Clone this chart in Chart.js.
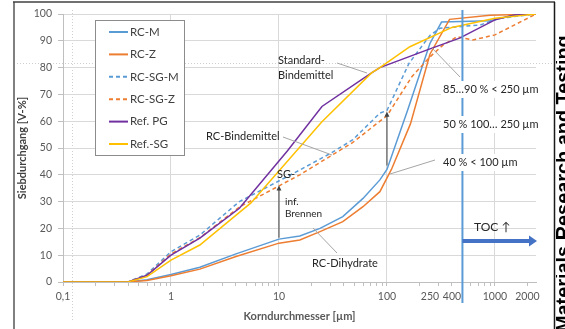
<!DOCTYPE html>
<html>
<head>
<meta charset="utf-8">
<script src="https://cdn.jsdelivr.net/npm/chart.js@4.4.0/dist/chart.umd.min.js"></script>
<style>
  html, body { margin: 0; padding: 0; background: #fff; }
</style>
</head>
<body>
<canvas id="chart" width="565" height="329"></canvas>
<script>
// ── Data ─────────────────────────────────────────────────────────────────────
const rcmSize  = [0.1, 0.4, 0.6, 1, 1.85, 4, 10, 15.6, 24, 39, 60, 86, 100, 155, 250, 320, 900, 1500, 2400];
const rcmPass  = [0, 0, 0.8, 2.8, 5.5, 10.5, 16, 17.2, 20, 24.4, 31.2, 38.1, 42, 64, 89, 97, 97.5, 99.6, 100];

const rczSize  = [0.1, 0.4, 0.6, 1, 1.85, 4, 10, 15.6, 24, 39, 60, 86, 110, 165, 250, 380, 900, 2400];
const rczPass  = [0, 0, 0.6, 2.3, 4.8, 9.5, 14.5, 15.7, 18.8, 22.5, 28.1, 33.7, 42, 59, 85, 98, 99.5, 100];

const sgmSize  = [0.1, 0.4, 0.6, 1, 1.85, 4.3, 15.6, 30, 48, 86, 100, 160, 250, 310, 730, 1100, 2400];
const sgmPass  = [0, 0, 3, 11.3, 17.5, 30, 41.8, 48, 53, 63, 64, 81.6, 92, 94.7, 95.9, 98.4, 100];

const sgzSize  = [0.1, 0.4, 0.6, 1, 1.85, 4.3, 15.6, 30, 48, 86, 100, 170, 250, 330, 445, 625, 1000, 2400];
const sgzPass  = [0, 0, 2.5, 10.5, 16.5, 28, 40, 47, 52, 60, 62, 76.6, 84, 88.4, 91.5, 90.3, 92.2, 100];

const pgSize   = [0.1, 0.4, 0.6, 1, 1.85, 4.3, 12, 25, 72, 86, 250, 470, 1000, 1500, 2400];
const pgPass   = [0, 0, 2.5, 10, 16.4, 27.5, 49, 65.5, 78, 80, 87, 91, 97.8, 99.6, 100];

const refSgSize = [0.1, 0.4, 0.6, 1, 1.85, 5.5, 25, 72, 86, 163, 400, 1000, 2400];
const refSgPass = [0, 0, 2, 8.2, 13.8, 29.5, 59.8, 78, 80, 87.8, 95, 98.4, 100];

const seriesNames = ["RC-M", "RC-Z", "RC-SG-M", "RC-SG-Z", "Ref. PG", "Ref.-SG"];

// axis ticks
const xTickValues = [0.1, 0.2, 0.3, 0.4, 0.5, 0.6, 0.7, 0.8, 0.9,
                     1, 2, 3, 4, 5, 6, 7, 8, 9,
                     10, 20, 30, 40, 50, 60, 70, 80, 90,
                     100, 200, 250, 300, 400, 500, 600, 700, 800, 900,
                     1000, 2000];
const xLabelValues = [0.1, 1, 10, 100, 250, 400, 1000, 2000];
const xLabelTexts  = ["0,1", "1", "10", "100", "250", "400", "1000", "2000"];
const xGridValues  = [1, 10, 100, 1000];

const FONT = 'Lato, "Open Sans", sans-serif';
const INK = "#595959";

const BLUE = "#5b9bd5", ORANGE = "#ed7d31", PURPLE = "#7030a0", GOLD = "#ffc000";

function pts(xs, ys) { return xs.map((x, i) => ({ x, y: ys[i] })); }

function seg(c, x1, y1, x2, y2) {
  c.beginPath(); c.moveTo(x1, y1); c.lineTo(x2, y2); c.stroke();
}

function arrowUp(c, x, yFrom, yTo) {
  seg(c, x, yFrom, x, yTo + 4);
  c.beginPath();
  c.moveTo(x - 2.5, yTo + 5); c.lineTo(x + 2.5, yTo + 5); c.lineTo(x, yTo);
  c.closePath(); c.fill();
}

// ── Page frame + scan guides ─────────────────────────────────────────────────
const framePlugin = {
  id: "framePlugin",
  beforeDraw(chart) {
    const c = chart.ctx;
    c.save();
    c.fillStyle = "#fff";
    c.fillRect(0, 0, chart.width, chart.height);
    c.strokeStyle = "#d0d0d0";
    c.lineWidth = 1;
    c.setLineDash([1, 2]);
    seg(c, 17, 63.5, 553, 63.5);
    seg(c, 72.5, 10, 72.5, 322);
    c.restore();
  },
  afterDraw(chart) {
    const c = chart.ctx;
    c.save();
    c.strokeStyle = "#808080"; c.lineWidth = 2;
    seg(c, 14, 2, 14, 329);
    c.strokeStyle = "#404040"; c.lineWidth = 1.5;
    seg(c, 13, 2, 555, 2);
    c.strokeStyle = "#1a1a1a";
    seg(c, 554.5, 2, 554.5, 329);

    // journal name, rotated and cut by the page edge
    const name = "Materials Research and Testing";
    c.beginPath(); c.rect(556, 0, 20, 329); c.clip();
    c.font = 'bold 20px "Liberation Sans", Arial, sans-serif';
    const size = 20 * 297 / c.measureText(name).width;
    c.font = 'bold ' + size.toFixed(2) + 'px "Liberation Sans", Arial, sans-serif';
    c.translate(556 + size * 0.72, 332);
    c.rotate(-Math.PI / 2);
    c.fillStyle = "#000";
    c.textBaseline = "alphabetic";
    c.fillText(name, 0, 0);
    c.restore();
  }
};

// ── Annotations + legend ─────────────────────────────────────────────────────
const notesPlugin = {
  id: "notesPlugin",
  afterDatasetsDraw(chart) {
    const c = chart.ctx;
    const xs = chart.scales.x, ys = chart.scales.y;
    c.save();

    // vertical marker at 500 µm and TOC arrow
    const x500 = xs.getPixelForValue(500);
    c.strokeStyle = BLUE; c.lineWidth = 2;
    seg(c, x500, 10, x500, 303);
    c.strokeStyle = "#4472c4"; c.fillStyle = "#4472c4"; c.lineWidth = 4;
    seg(c, x500, 241, 530, 241);
    c.beginPath(); c.moveTo(529, 235.5); c.lineTo(537, 241); c.lineTo(529, 246.5); c.closePath(); c.fill();

    // leader lines
    c.strokeStyle = "#a6a6a6"; c.lineWidth = 1;
    seg(c, 337, 63, 367, 73);
    seg(c, 283, 137, 332, 155);
    seg(c, 313, 228, 337, 253);
    seg(c, 460, 77, 432, 48);
    seg(c, 435, 160, 390, 174);

    // arrows
    c.strokeStyle = "#595959"; c.fillStyle = "#404040"; c.lineWidth = 1.2;
    const x10 = xs.getPixelForValue(10), x100 = xs.getPixelForValue(100);
    arrowUp(c, x10, ys.getPixelForValue(16.5), ys.getPixelForValue(36));
    arrowUp(c, x100, ys.getPixelForValue(43.5), ys.getPixelForValue(63.5));

    // white text boxes
    c.fillStyle = "#fff";
    c.fillRect(441, 81, 96, 17);
    c.fillRect(441, 116, 95, 17);
    c.fillRect(441, 154, 77, 17);

    c.fillStyle = "#262626";
    c.textBaseline = "middle";
    c.textAlign = "left";
    c.font = "11px " + FONT;
    c.fillText("Standard-", 278, 60);
    c.fillText("Bindemittel", 278, 75);
    c.fillText("RC-Bindemittel", 206, 136);
    c.fillText("SG-", 277, 174);
    c.fillText("RC-Dihydrate", 312, 263);
    c.fillText("85…90 % < 250 µm", 443, 89);
    c.fillText("50 % 100… 250 µm", 443, 124);
    c.fillText("40 % < 100 µm", 443, 162);
    c.font = "12px " + FONT;
    c.fillText("TOC ↑", 474, 227);
    c.font = "10px " + FONT;
    c.fillText("inf.", 285, 202);
    c.fillText("Brennen", 285, 214);

    // legend box
    c.fillStyle = "#fff";
    c.fillRect(95, 20, 89, 135);
    c.strokeStyle = "#8c8c8c"; c.lineWidth = 1;
    c.strokeRect(95.5, 20.5, 89, 135);
    c.font = "11.5px " + FONT;
    chart.data.datasets.forEach((ds, i) => {
      const y = 32 + i * 22.4;
      c.strokeStyle = ds.borderColor;
      c.lineWidth = 2;
      c.setLineDash(ds.borderDash || []);
      seg(c, 109, y, 128, y);
      c.setLineDash([]);
      c.fillStyle = "#404040";
      c.fillText(ds.label, 130, y);
    });
    c.restore();
  }
};

// ── Chart ────────────────────────────────────────────────────────────────────
const ctx = document.getElementById("chart");

const datasets = [
  { label: seriesNames[0], data: pts(rcmSize, rcmPass),     borderColor: BLUE,   order: 6 },
  { label: seriesNames[1], data: pts(rczSize, rczPass),     borderColor: ORANGE, order: 5 },
  { label: seriesNames[2], data: pts(sgmSize, sgmPass),     borderColor: BLUE,   borderDash: [4, 3], order: 4 },
  { label: seriesNames[3], data: pts(sgzSize, sgzPass),     borderColor: ORANGE, borderDash: [4, 3], order: 3 },
  { label: seriesNames[4], data: pts(pgSize, pgPass),       borderColor: PURPLE, order: 2 },
  { label: seriesNames[5], data: pts(refSgSize, refSgPass), borderColor: GOLD,   order: 1 },
].map(d => Object.assign({
  borderWidth: 1.5,
  pointRadius: 0,
  fill: false,
  tension: 0,
}, d));

new Chart(ctx, {
  type: "line",
  data: { datasets },
  options: {
    responsive: false,
    animation: false,
    layout: { padding: { left: 0, top: 14, right: 29, bottom: 0 } },
    plugins: { legend: { display: false }, tooltip: { enabled: false } },
    scales: {
      x: {
        type: "logarithmic",
        min: 0.1,
        max: 2400,
        afterBuildTicks: s => { s.ticks = xTickValues.map(v => ({ value: v })); },
        afterFit: s => { s.height = 47; },
        ticks: {
          autoSkip: false,
          maxRotation: 0,
          padding: 4,
          color: INK,
          font: { family: FONT, size: 10.5 },
          callback: v => {
            const i = xLabelValues.indexOf(v);
            return i >= 0 ? xLabelTexts[i] : "";
          },
        },
        grid: {
          color: c => (c.tick && xGridValues.includes(c.tick.value)) ? "#d9d9d9" : "rgba(0,0,0,0)",
          tickColor: c => (c.tick && c.tick.value === 250) ? "rgba(0,0,0,0)" : "#bfbfbf",
          tickLength: 4,
        },
        border: { display: true, color: "#bfbfbf" },
        title: {
          display: true,
          text: "Korndurchmesser [µm]",
          color: INK,
          font: { family: FONT, size: 11, weight: "bold" },
          padding: { top: 0, bottom: 6 },
        },
      },
      y: {
        min: 0,
        max: 100,
        afterFit: s => { s.width = 63; },
        ticks: {
          stepSize: 5,
          padding: 6,
          color: INK,
          font: { family: FONT, size: 10.5 },
          callback: v => (v % 10 === 0 ? v : ""),
        },
        grid: {
          color: c => (c.tick && c.tick.value % 10 === 0 && c.tick.value > 0) ? "#d9d9d9" : "rgba(0,0,0,0)",
          tickColor: "#bfbfbf",
          tickLength: 5,
        },
        border: { display: true, color: "#bfbfbf" },
        title: {
          display: true,
          text: "Siebdurchgang [V-%]",
          color: "#404040",
          font: { family: FONT, size: 11, weight: "bold" },
          padding: { top: 16, bottom: 0 },
        },
      },
    },
  },
  plugins: [framePlugin, notesPlugin],
});
</script>
</body>
</html>
